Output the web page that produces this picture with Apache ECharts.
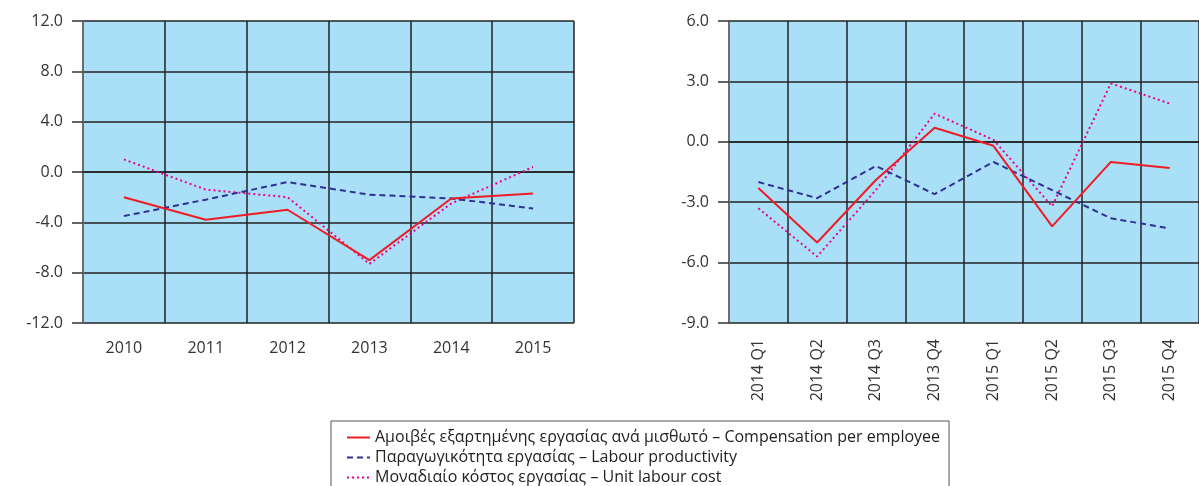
<!DOCTYPE html>
<html>
<head>
<meta charset="utf-8">
<script src="https://cdn.jsdelivr.net/npm/echarts@6/dist/echarts.min.js"></script>
<style>
html,body{margin:0;padding:0;background:#fff;}
#chart{width:1199px;height:486px;}
</style>
</head>
<body>
<div id="chart"></div>
<script>
var years = ['2010','2011','2012','2013','2014','2015'];
var quarters = ['2014 Q1','2014 Q2','2014 Q3','2013 Q4','2015 Q1','2015 Q2','2015 Q3','2015 Q4'];

var names = [
	'Αμοιβές εξαρτημένης εργασίας ανά μισθωτό – Compensation per employee',
	'Παραγωγικότητα εργασίας – Labour productivity',
	'Μοναδιαίο κόστος εργασίας – Unit labour cost'
];

// annual
var compYear = [-2.0, -3.8, -3.0, -7.0, -2.1, -1.7];
var prodYear = [-3.5, -2.2, -0.8, -1.8, -2.1, -2.9];
var ulcYear  = [1.0, -1.4, -2.0, -7.3, -2.5, 0.4];

// quarterly
var compQ = [-2.3, -5.0, -1.9, 0.7, -0.2, -4.2, -1.0, -1.3];
var prodQ = [-2.0, -2.8, -1.2, -2.6, -1.0, -2.4, -3.8, -4.3];
var ulcQ  = [-3.3, -5.7, -2.4, 1.4, 0.1, -3.2, 2.9, 1.9];

var FONT = 'Open Sans';
var colors = ['#ee1c25', '#2e3192', '#ec008c'];
var lineTypes = ['solid', [6, 4], [2, 3]];

var chart = echarts.init(document.getElementById('chart'));

function yAxis(idx, min, max, step){
	return {
		type : 'value',
		gridIndex : idx,
		min : min,
		max : max,
		interval : step,
		axisLine : {show: true, lineStyle: {color: '#6d6d6d', width: 2}},
		axisTick : {show: true, length: 11, lineStyle: {color: '#333', width: 1.5}},
		axisLabel : {
			margin : 20,
			color : '#333',
			fontSize : 16,
			fontFamily : FONT,
			formatter : function(v){ return v.toFixed(1); }
		},
		splitLine : {show: true, lineStyle: {color: '#222', width: 1.5}}
	};
}

function xAxis(idx, data, rotate, margin){
	return {
		type : 'category',
		gridIndex : idx,
		data : data,
		boundaryGap : true,
		axisLine : {show: true, lineStyle: {color: '#222', width: 1.5}},
		axisTick : {show: false},
		axisLabel : {
			interval : 0,
			rotate : rotate,
			margin : margin,
			color : '#333',
			fontSize : 16,
			fontFamily : FONT
		},
		splitLine : {show: true, interval: 0, lineStyle: {color: '#222', width: 1.5}}
	};
}

function line(i, gridIdx, data){
	return {
		name : names[i],
		type : 'line',
		xAxisIndex : gridIdx,
		yAxisIndex : gridIdx,
		data : data,
		symbol : 'none',
		smooth : false,
		z : 5 - i,
		lineStyle : {color: colors[i], width: 2, type: lineTypes[i]},
		itemStyle : {color: colors[i]}
	};
}

var option = {
	animation : false,
	grid : [
		{left: 83, top: 21, width: 491, height: 302, show: true, backgroundColor: '#aadff8', borderWidth: 0},
		{left: 729, top: 21, width: 490, height: 302, show: true, backgroundColor: '#aadff8', borderWidth: 0}
	],
	legend : {
		orient : 'vertical',
		left : 331,
		top : 421,
		height : 100,
		data : names,
		itemWidth : 23,
		itemHeight : 14,
		itemGap : 1,
		padding : [7, 9, 12, 15],
		borderColor : '#555',
		borderWidth : 1,
		itemStyle : {opacity: 0},
		textStyle : {color: '#222', fontSize: 16, lineHeight: 19, fontFamily: FONT}
	},
	xAxis : [xAxis(0, years, 0, 17), xAxis(1, quarters, 90, 16)],
	yAxis : [yAxis(0, -12, 12, 4), yAxis(1, -9, 6, 3)],
	series : [
		line(0, 0, compYear),
		line(1, 0, prodYear),
		line(2, 0, ulcYear),
		line(0, 1, compQ),
		line(1, 1, prodQ),
		line(2, 1, ulcQ)
	]
};
chart.setOption(option);
</script>
</body>
</html>
